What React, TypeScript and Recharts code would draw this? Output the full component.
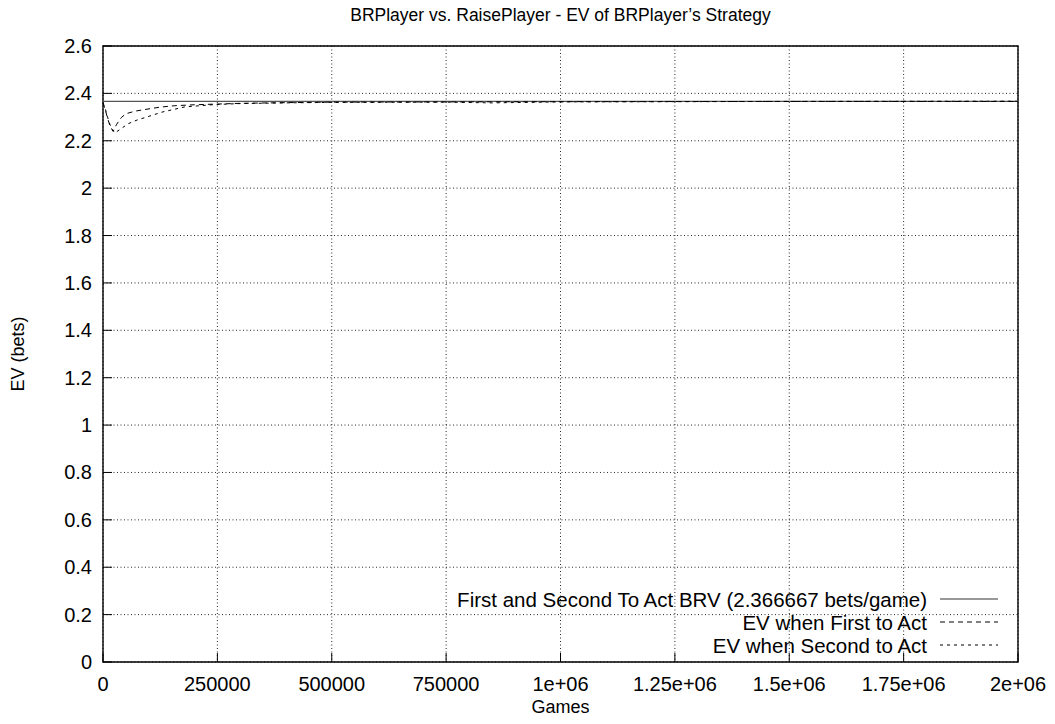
import React from 'react';
import { LineChart, Line, XAxis, YAxis, CartesianGrid, ReferenceLine, ReferenceArea, Legend, Label } from 'recharts';

const TITLE = 'BRPlayer vs. RaisePlayer - EV of BRPlayer’s Strategy';
const X_LABEL = 'Games';
const Y_LABEL = 'EV (bets)';

const X_TICKS = [0, 250000, 500000, 750000, 1000000, 1250000, 1500000, 1750000, 2000000];
const X_TICK_LABELS = ['0', '250000', '500000', '750000', '1e+06', '1.25e+06', '1.5e+06', '1.75e+06', '2e+06'];
const Y_TICKS = [0, 0.2, 0.4, 0.6, 0.8, 1, 1.2, 1.4, 1.6, 1.8, 2, 2.2, 2.4, 2.6];
const Y_TICK_LABELS = ['0', '0.2', '0.4', '0.6', '0.8', '1', '1.2', '1.4', '1.6', '1.8', '2', '2.2', '2.4', '2.6'];

const BRV = 2.366667;
const SERIES_NAMES = [
  'First and Second To Act BRV (2.366667 bets/game)',
  'EV when First to Act',
  'EV when Second to Act',
];

const FIRST_GAMES = [0, 5000, 10000, 15000, 22000, 30000, 40000, 50000, 70000, 92000, 125000, 157000, 200000, 250000, 300000, 400000, 500000, 750000, 1000000, 1500000, 2000000];
const FIRST_EV = [2.36, 2.33, 2.295, 2.265, 2.24, 2.27, 2.298, 2.314, 2.325, 2.332, 2.342, 2.348, 2.352, 2.355, 2.358, 2.361, 2.363, 2.364, 2.365, 2.366, 2.366];

const SECOND_GAMES = [0, 5000, 10000, 15000, 20000, 26000, 35000, 55000, 75000, 92000, 129000, 179000, 245000, 300000, 400000, 500000, 750000, 850000, 1000000, 1500000, 2000000];
const SECOND_EV = [2.36, 2.335, 2.3, 2.27, 2.248, 2.233, 2.245, 2.272, 2.288, 2.298, 2.321, 2.343, 2.353, 2.357, 2.36, 2.362, 2.363, 2.36, 2.364, 2.366, 2.367];

const firstData = FIRST_GAMES.map((g, i) => ({ games: g, ev: FIRST_EV[i] }));
const secondData = SECOND_GAMES.map((g, i) => ({ games: g, ev: SECOND_EV[i] }));

const W = 1055;
const H = 724;
const PL = 103;
const PR = 1018;
const PT = 46;
const PB = 662;
const TICK = 9;
const FONT = '"Liberation Sans", Arial, Helvetica, sans-serif';
const FS = 20;
const FS_LEGEND = 20.5;
const FS_TITLE = 17.5;
const FS_AXIS = 18;

const LeftTick = (props: any) => {
  const { y, index } = props;
  return (
    <g>
      <line x1={PL} x2={PL + TICK} y1={y} y2={y} stroke="#000" strokeWidth={1} />
      <text x={PL - 11} y={y} textAnchor="end" dominantBaseline="central" fontFamily={FONT} fontSize={FS} fill="#000">
        {Y_TICK_LABELS[index]}
      </text>
    </g>
  );
};

const RightTick = (props: any) => {
  const { y } = props;
  return <line x1={PR - TICK} x2={PR} y1={y} y2={y} stroke="#000" strokeWidth={1} />;
};

const BottomTick = (props: any) => {
  const { x, index } = props;
  return (
    <g>
      <line x1={x} x2={x} y1={PB} y2={PB - TICK} stroke="#000" strokeWidth={1} />
      <text x={x} y={PB + 22} textAnchor="middle" dominantBaseline="central" fontFamily={FONT} fontSize={FS} fill="#000">
        {X_TICK_LABELS[index]}
      </text>
    </g>
  );
};

const TopTick = (props: any) => {
  const { x } = props;
  return <line x1={x} x2={x} y1={PT} y2={PT + TICK} stroke="#000" strokeWidth={1} />;
};

const LEGEND_STYLES = [
  { dash: undefined as string | undefined, color: '#333' },
  { dash: '5 4', color: '#000' },
  { dash: '3 4', color: '#000' },
];

const LegendContent = () => (
  <svg width={620} height={75} style={{ display: 'block' }}>
    {SERIES_NAMES.map((name, i) => {
      const y = 19 + i * 23;
      return (
        <g key={name}>
          <text x={497} y={y} textAnchor="end" dominantBaseline="central" fontFamily={FONT} fontSize={FS_LEGEND} fill="#000">
            {name}
          </text>
          <line x1={510} x2={568} y1={y} y2={y} stroke={LEGEND_STYLES[i].color} strokeWidth={1} strokeDasharray={LEGEND_STYLES[i].dash} />
        </g>
      );
    })}
  </svg>
);

export default function App() {
  return (
    <div style={{ margin: -8, width: W, height: H, background: '#fff' }}>
      <LineChart width={W} height={H} margin={{ top: PT, right: W - PR, bottom: 0, left: 0 }}>
        <CartesianGrid stroke="#000" strokeOpacity={0.85} strokeDasharray="1 2.5" strokeWidth={1} />
        <XAxis
          xAxisId={0}
          dataKey="games"
          type="number"
          domain={[0, 2000000]}
          ticks={X_TICKS}
          interval={0}
          height={H - PB}
          axisLine={false}
          tickLine={false}
          tick={<BottomTick />}
          allowDuplicatedCategory={false}
        >
          <Label
            content={() => (
              <g>
                <text x={(PL + PR) / 2} y={707} textAnchor="middle" dominantBaseline="central" fontFamily={FONT} fontSize={FS_AXIS} fill="#000">
                  {X_LABEL}
                </text>
                <text x={(PL + PR) / 2} y={15} textAnchor="middle" dominantBaseline="central" fontFamily={FONT} fontSize={FS_TITLE} fill="#000">
                  {TITLE}
                </text>
              </g>
            )}
          />
        </XAxis>
        <XAxis
          xAxisId="top"
          orientation="top"
          type="number"
          dataKey="games"
          domain={[0, 2000000]}
          ticks={X_TICKS}
          interval={0}
          height={0}
          axisLine={false}
          tickLine={false}
          tick={<TopTick />}
        />
        <YAxis
          yAxisId={0}
          type="number"
          domain={[0, 2.6]}
          ticks={Y_TICKS}
          interval={0}
          width={PL}
          axisLine={false}
          tickLine={false}
          tick={<LeftTick />}
        >
          <Label
            content={() => (
              <text
                x={18}
                y={(PT + PB) / 2}
                textAnchor="middle"
                dominantBaseline="central"
                fontFamily={FONT}
                fontSize={FS_AXIS}
                fill="#000"
                transform={`rotate(-90, 18, ${(PT + PB) / 2})`}
              >
                {Y_LABEL}
              </text>
            )}
          />
        </YAxis>
        <YAxis
          yAxisId="right"
          orientation="right"
          type="number"
          domain={[0, 2.6]}
          ticks={Y_TICKS}
          interval={0}
          width={0}
          axisLine={false}
          tickLine={false}
          tick={<RightTick />}
        />
        <ReferenceLine y={BRV} stroke="#555" strokeWidth={1.3} ifOverflow="extendDomain" />
        <Line
          data={firstData}
          dataKey="ev"
          name={SERIES_NAMES[1]}
          type="linear"
          stroke="#000"
          strokeWidth={1}
          strokeDasharray="5 4"
          dot={false}
          activeDot={false}
          isAnimationActive={false}
        />
        <Line
          data={secondData}
          dataKey="ev"
          name={SERIES_NAMES[2]}
          type="linear"
          stroke="#000"
          strokeWidth={1}
          strokeDasharray="3 4"
          dot={false}
          activeDot={false}
          isAnimationActive={false}
        />
        <ReferenceArea x1={0} x2={2000000} y1={0} y2={2.6} fill="none" stroke="#000" strokeWidth={1.4} />
        <Legend
          layout="vertical"
          align="center"
          verticalAlign="middle"
          content={<LegendContent />}
          wrapperStyle={{ position: 'absolute', left: 430, top: 580, width: 620, height: 75 }}
        />
      </LineChart>
    </div>
  );
}
